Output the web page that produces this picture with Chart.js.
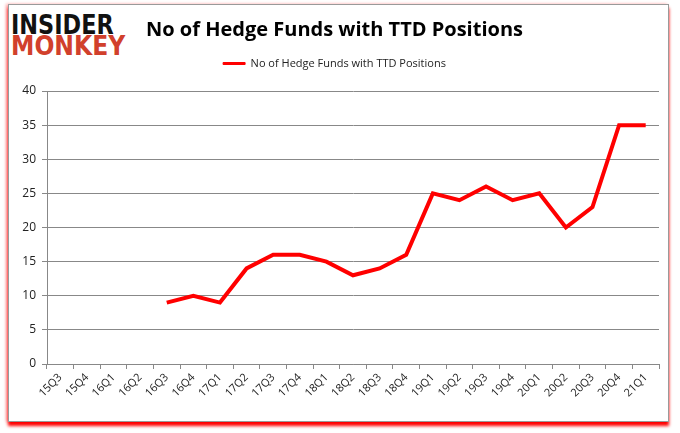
<!DOCTYPE html>
<html>
<head>
<meta charset="utf-8">
<script src="https://cdn.jsdelivr.net/npm/chart.js@4.4.1/dist/chart.umd.min.js"></script>
<style>
  body { margin: 0; background: #fff; }
  #wrap { position: relative; width: 680px; height: 433px; overflow: hidden; }
  #frame {
    position: absolute; left: 8px; top: 4px; width: 659px; height: 416px;
    border: 1px solid #9a9a9a;
    box-shadow: 0 4px 3px #ff0000, -2px 0 3px rgba(255, 0, 0, 0.35);
    background: #fff;
  }
  .logo {
    position: absolute; left: 11px; font-family: "DejaVu Sans"; font-weight: bold;
    font-size: 27px; line-height: 27px; transform-origin: 0 0; white-space: nowrap;
  }
  #l1 { top: 11px; color: #111; transform: scaleX(0.83); }
  #l2 { top: 32px; color: #d1402c; transform: scaleX(0.87); }
  canvas { position: absolute; left: 0; top: 0; }
</style>
</head>
<body>
<div id="wrap">
  <div id="frame"></div>
  <div class="logo" id="l1">INSIDER</div>
  <div class="logo" id="l2">MONKEY</div>
  <canvas id="chart" width="680" height="433"></canvas>
</div>
<script>
// quarters on the x axis
const quarters = ["15Q3", "15Q4", "16Q1", "16Q2", "16Q3", "16Q4", "17Q1", "17Q2",
  "17Q3", "17Q4", "18Q1", "18Q2", "18Q3", "18Q4", "19Q1", "19Q2", "19Q3", "19Q4",
  "20Q1", "20Q2", "20Q3", "20Q4", "21Q1"];
// number of hedge funds holding TTD (no data before 16Q3)
const hedgeFunds = [null, null, null, null, 9, 10, 9, 14, 16, 16, 15, 13, 14, 16,
  25, 24, 26, 24, 25, 20, 23, 35, 35];
const yTicks = [0, 5, 10, 15, 20, 25, 30, 35, 40];

// extra room under the legend
const legendMargin = {
  id: "legendMargin",
  beforeInit(chart) {
    const fit = chart.legend.fit;
    chart.legend.fit = function () {
      fit.bind(chart.legend)();
      this.height += 12;
    };
  },
};

const ctx = document.getElementById("chart").getContext("2d");
const chart = new Chart(ctx, {
  type: "line",
  data: {
    labels: quarters,
    datasets: [
      {
        label: "No of Hedge Funds with TTD Positions",
        data: hedgeFunds,
        borderColor: "#ff0000",
        backgroundColor: "#ff0000",
        borderWidth: 4,
        pointRadius: 0,
        tension: 0,
      },
    ],
  },
  plugins: [legendMargin],
  options: {
    responsive: false,
    animation: false,
    layout: { padding: { top: 8, left: 10, right: 21, bottom: 0 } },
    plugins: {
      title: {
        display: true,
        text: "No of Hedge Funds with TTD Positions",
        color: "#000",
        font: { family: "Open Sans", size: 20, weight: "bold" },
        padding: { top: 10, bottom: 6 },
      },
      legend: {
        display: true,
        labels: {
          color: "#222",
          font: { family: "Open Sans", size: 11 },
          boxWidth: 22,
          boxHeight: 2,
          padding: 10,
          generateLabels: (c) =>
            Chart.defaults.plugins.legend.labels
              .generateLabels(c)
              .map((item) => ({ ...item, lineWidth: 1 })),
        },
      },
      tooltip: { enabled: false },
    },
    scales: {
      x: {
        offset: true,
        grid: {
          offset: true,
          drawOnChartArea: false,
          drawTicks: true,
          tickLength: 5,
          color: "#888",
        },
        border: { color: "#888" },
        ticks: {
          color: "#222",
          font: { family: "Open Sans", size: 11 },
          maxRotation: 45,
          minRotation: 45,
          autoSkip: false,
          padding: 2,
        },
        afterFit: (scale) => {
          scale.height = 69;
        },
      },
      y: {
        min: 0,
        max: 40,
        afterBuildTicks: (scale) => {
          scale.ticks = yTicks.map((v) => ({ value: v }));
        },
        grid: { color: "#888", tickLength: 5 },
        border: { color: "#888" },
        ticks: {
          color: "#222",
          font: { family: "Open Sans", size: 12 },
          padding: 6,
        },
        afterFit: (scale) => {
          scale.width = 37;
        },
      },
    },
  },
});
</script>
</body>
</html>
